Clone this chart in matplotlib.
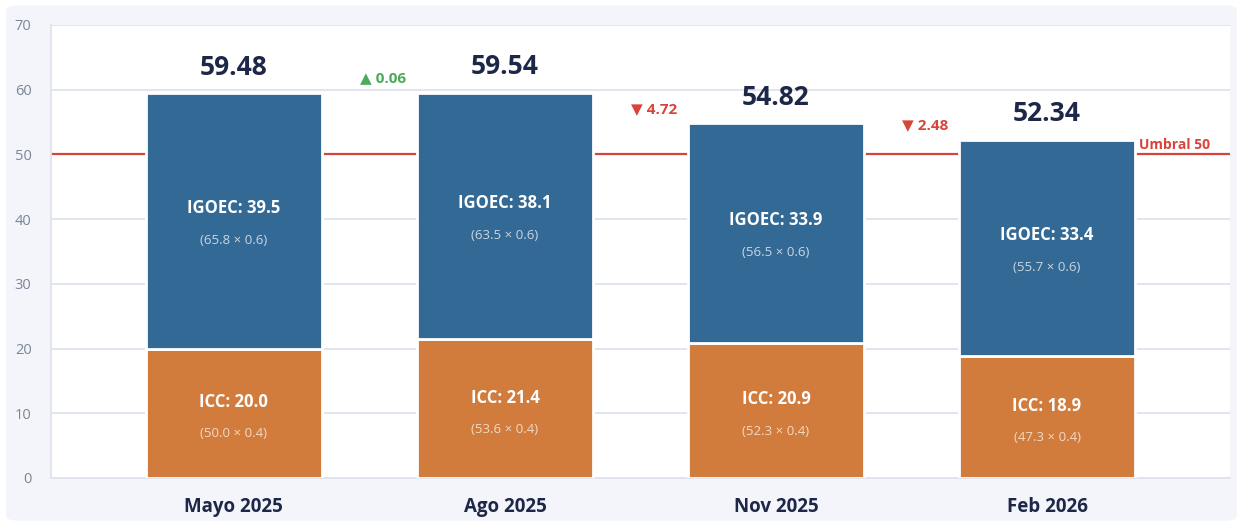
import matplotlib
matplotlib.use("Agg")
import matplotlib.pyplot as plt
from matplotlib.patches import FancyBboxPatch

# ---------------------- DATOS ----------------------
periods = ["Mayo 2025", "Ago 2025", "Nov 2025", "Feb 2026"]
icc = [20.0, 21.4, 20.9, 18.9]
igoec = [39.5, 38.1, 33.9, 33.4]
totals = [59.48, 59.54, 54.82, 52.34]
icc_raw = ["50.0", "53.6", "52.3", "47.3"]
igoec_raw = ["65.8", "63.5", "56.5", "55.7"]
deltas = [0.06, -4.72, -2.48]
umbral = 50

# colores
BLUE = "#336995"
ORANGE = "#d17c3c"
NAVY = "#1d2747"
GRAY = "#7b8597"
GRID = "#dfe3ec"
RED = "#d9443a"
GREEN = "#4caa5c"
BG = "#f4f5fa"

plt.rcParams["font.family"] = ["Open Sans", "DejaVu Sans"]

fig = plt.figure(figsize=(12.43, 5.26), dpi=100, facecolor="white")
fig.patches.append(FancyBboxPatch((0.005, 0.01), 0.99, 0.98, boxstyle="round,pad=0,rounding_size=0.01",
                                  transform=fig.transFigure, facecolor=BG, edgecolor="none", zorder=-10))
ax = fig.add_axes([0.041, 0.0913, 0.9485, 0.8612])
ax.set_zorder(1)
ax.set_facecolor("white")

x = list(range(len(periods)))
w = 0.65

ax.bar(x, icc, width=w, color=ORANGE, edgecolor="white", linewidth=2, zorder=3)
ax.bar(x, igoec, width=w, bottom=icc, color=BLUE, edgecolor="white", linewidth=2, zorder=3)

# umbral
ax.axhline(umbral, color=RED, linewidth=1.6, zorder=2)
ax.text(x[-1] + w / 2 + 0.015, umbral + 0.4, "Umbral 50", color=RED, fontsize=10,
        fontweight="bold", ha="left", va="bottom", zorder=4)

for i in x:
    m_icc = icc[i] / 2
    m_ig = icc[i] + igoec[i] / 2
    ax.text(i, m_ig + 2.0, f"IGOEC: {igoec[i]:.1f}", color="white", fontsize=12,
            fontweight="bold", ha="center", va="center", zorder=4)
    ax.text(i, m_ig - 3.0, f"({igoec_raw[i]} × 0.6)", color="#c9d6e4", fontsize=9.5,
            ha="center", va="center", zorder=4)
    ax.text(i, m_icc + 1.7, f"ICC: {icc[i]:.1f}", color="white", fontsize=12,
            fontweight="bold", ha="center", va="center", zorder=4)
    ax.text(i, m_icc - 3.2, f"({icc_raw[i]} × 0.4)", color="#f3d9c4", fontsize=9.5,
            ha="center", va="center", zorder=4)
    ax.text(i, totals[i] + 4.0, f"{totals[i]:.2f}", color=NAVY, fontsize=19,
            fontweight="bold", ha="center", va="center", zorder=4)

for j, d in enumerate(deltas):
    sym = "▲" if d > 0 else "▼"
    col = GREEN if d > 0 else RED
    ax.text(j + 0.55, totals[j + 1] + 2.2, f"{sym} {abs(d):.2f}", color=col, fontsize=11,
            fontweight="bold", ha="center", va="center", zorder=4)

ax.set_xlim(-0.675, 3.675)
ax.set_ylim(0, 70)
ax.set_yticks(range(0, 71, 10))
ax.set_xticks(x)
ax.set_xticklabels(periods, fontsize=13.5, fontweight="bold", color=NAVY)
ax.tick_params(axis="y", colors=GRAY, labelsize=10.5, length=0, pad=14)
ax.tick_params(axis="x", length=0, pad=14)
ax.grid(axis="y", color=GRID, linewidth=1.3, zorder=0)
for s in ["top", "right"]:
    ax.spines[s].set_visible(False)
for s in ["left", "bottom"]:
    ax.spines[s].set_color(GRID)
    ax.spines[s].set_linewidth(1.3)

fig.savefig("out.png", dpi=100, facecolor=fig.get_facecolor())
